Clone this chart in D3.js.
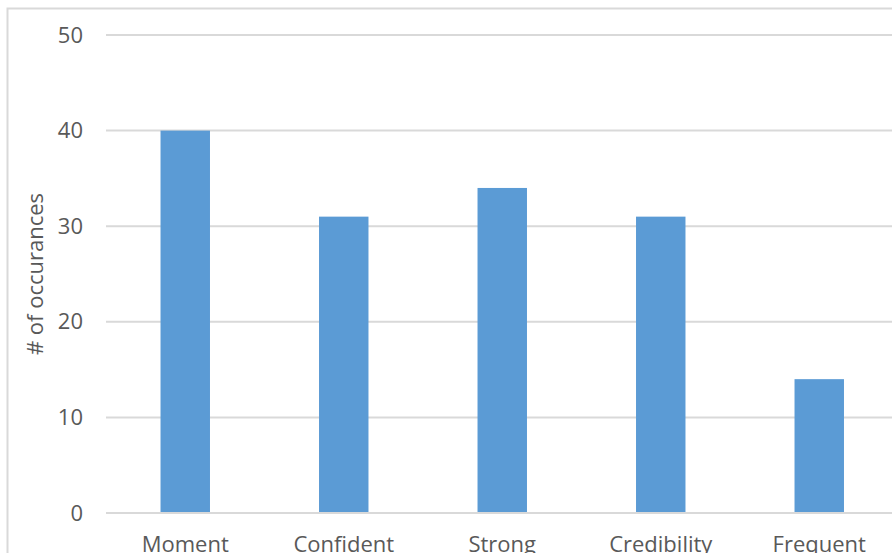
<!DOCTYPE html>
<html>
<head>
<meta charset="utf-8">
<script src="https://cdn.jsdelivr.net/npm/d3@7"></script>
<style>
  body { margin: 0; background: #fff; overflow: hidden; }
  svg { display: block; }
</style>
</head>
<body>
<div id="chart"></div>
<script>
// Chart data
const categories = ['Moment', 'Confident', 'Strong', 'Credibility', 'Frequent'];
const occurrences = [40, 31, 34, 31, 14];
const yTicks = [0, 10, 20, 30, 40, 50];

const W = 892, H = 553;
const plot = { left: 106, right: 898.5, top: 35, bottom: 513 };
const font = '"Open Sans", sans-serif';

const svg = d3.select('#chart')
  .append('svg')
  .attr('width', W)
  .attr('height', H);

// Outer frame (cropped on right/bottom)
svg.append('rect')
  .attr('x', 7.5).attr('y', 8.5)
  .attr('width', 1000).attr('height', 1000)
  .attr('fill', '#fff')
  .attr('stroke', '#d9d9d9')
  .attr('stroke-width', 2);

const x = d3.scaleBand()
  .domain(categories)
  .range([plot.left, plot.right])
  .paddingInner(0.688)
  .paddingOuter(0.344);

const y = d3.scaleLinear()
  .domain([0, 50])
  .range([plot.bottom, plot.top]);

// Gridlines
svg.append('g')
  .selectAll('line')
  .data(yTicks)
  .enter()
  .append('line')
  .attr('x1', plot.left)
  .attr('x2', W)
  .attr('y1', d => y(d))
  .attr('y2', d => y(d))
  .attr('stroke', '#d9d9d9')
  .attr('stroke-width', 2);

// Bars
svg.append('g')
  .selectAll('rect')
  .data(occurrences)
  .enter()
  .append('rect')
  .attr('x', (d, i) => x(categories[i]))
  .attr('width', x.bandwidth())
  .attr('y', d => y(d))
  .attr('height', d => y(0) - y(d) - 1)
  .attr('fill', '#5b9bd5');

// Y axis labels
const yAxis = d3.axisLeft(y).tickValues(yTicks).tickSize(0).tickPadding(0);
svg.append('g')
  .attr('transform', 'translate(83,0)')
  .call(yAxis)
  .call(g => g.select('.domain').remove())
  .selectAll('text')
  .attr('font-family', font)
  .attr('font-size', 22)
  .attr('fill', '#595959');

// X axis labels
const xAxis = d3.axisBottom(x).tickSize(0).tickPadding(0);
svg.append('g')
  .attr('transform', `translate(0,${plot.bottom})`)
  .call(xAxis)
  .call(g => g.select('.domain').remove())
  .selectAll('text')
  .attr('dy', null)
  .attr('y', 38.5)
  .attr('font-family', font)
  .attr('font-size', 22)
  .attr('fill', '#595959');

// Y axis title
svg.append('text')
  .attr('transform', `translate(43,${(plot.top + plot.bottom) / 2}) rotate(-90)`)
  .attr('text-anchor', 'middle')
  .attr('font-family', font)
  .attr('font-size', 22)
  .attr('fill', '#595959')
  .text('# of occurances');
</script>
</body>
</html>
